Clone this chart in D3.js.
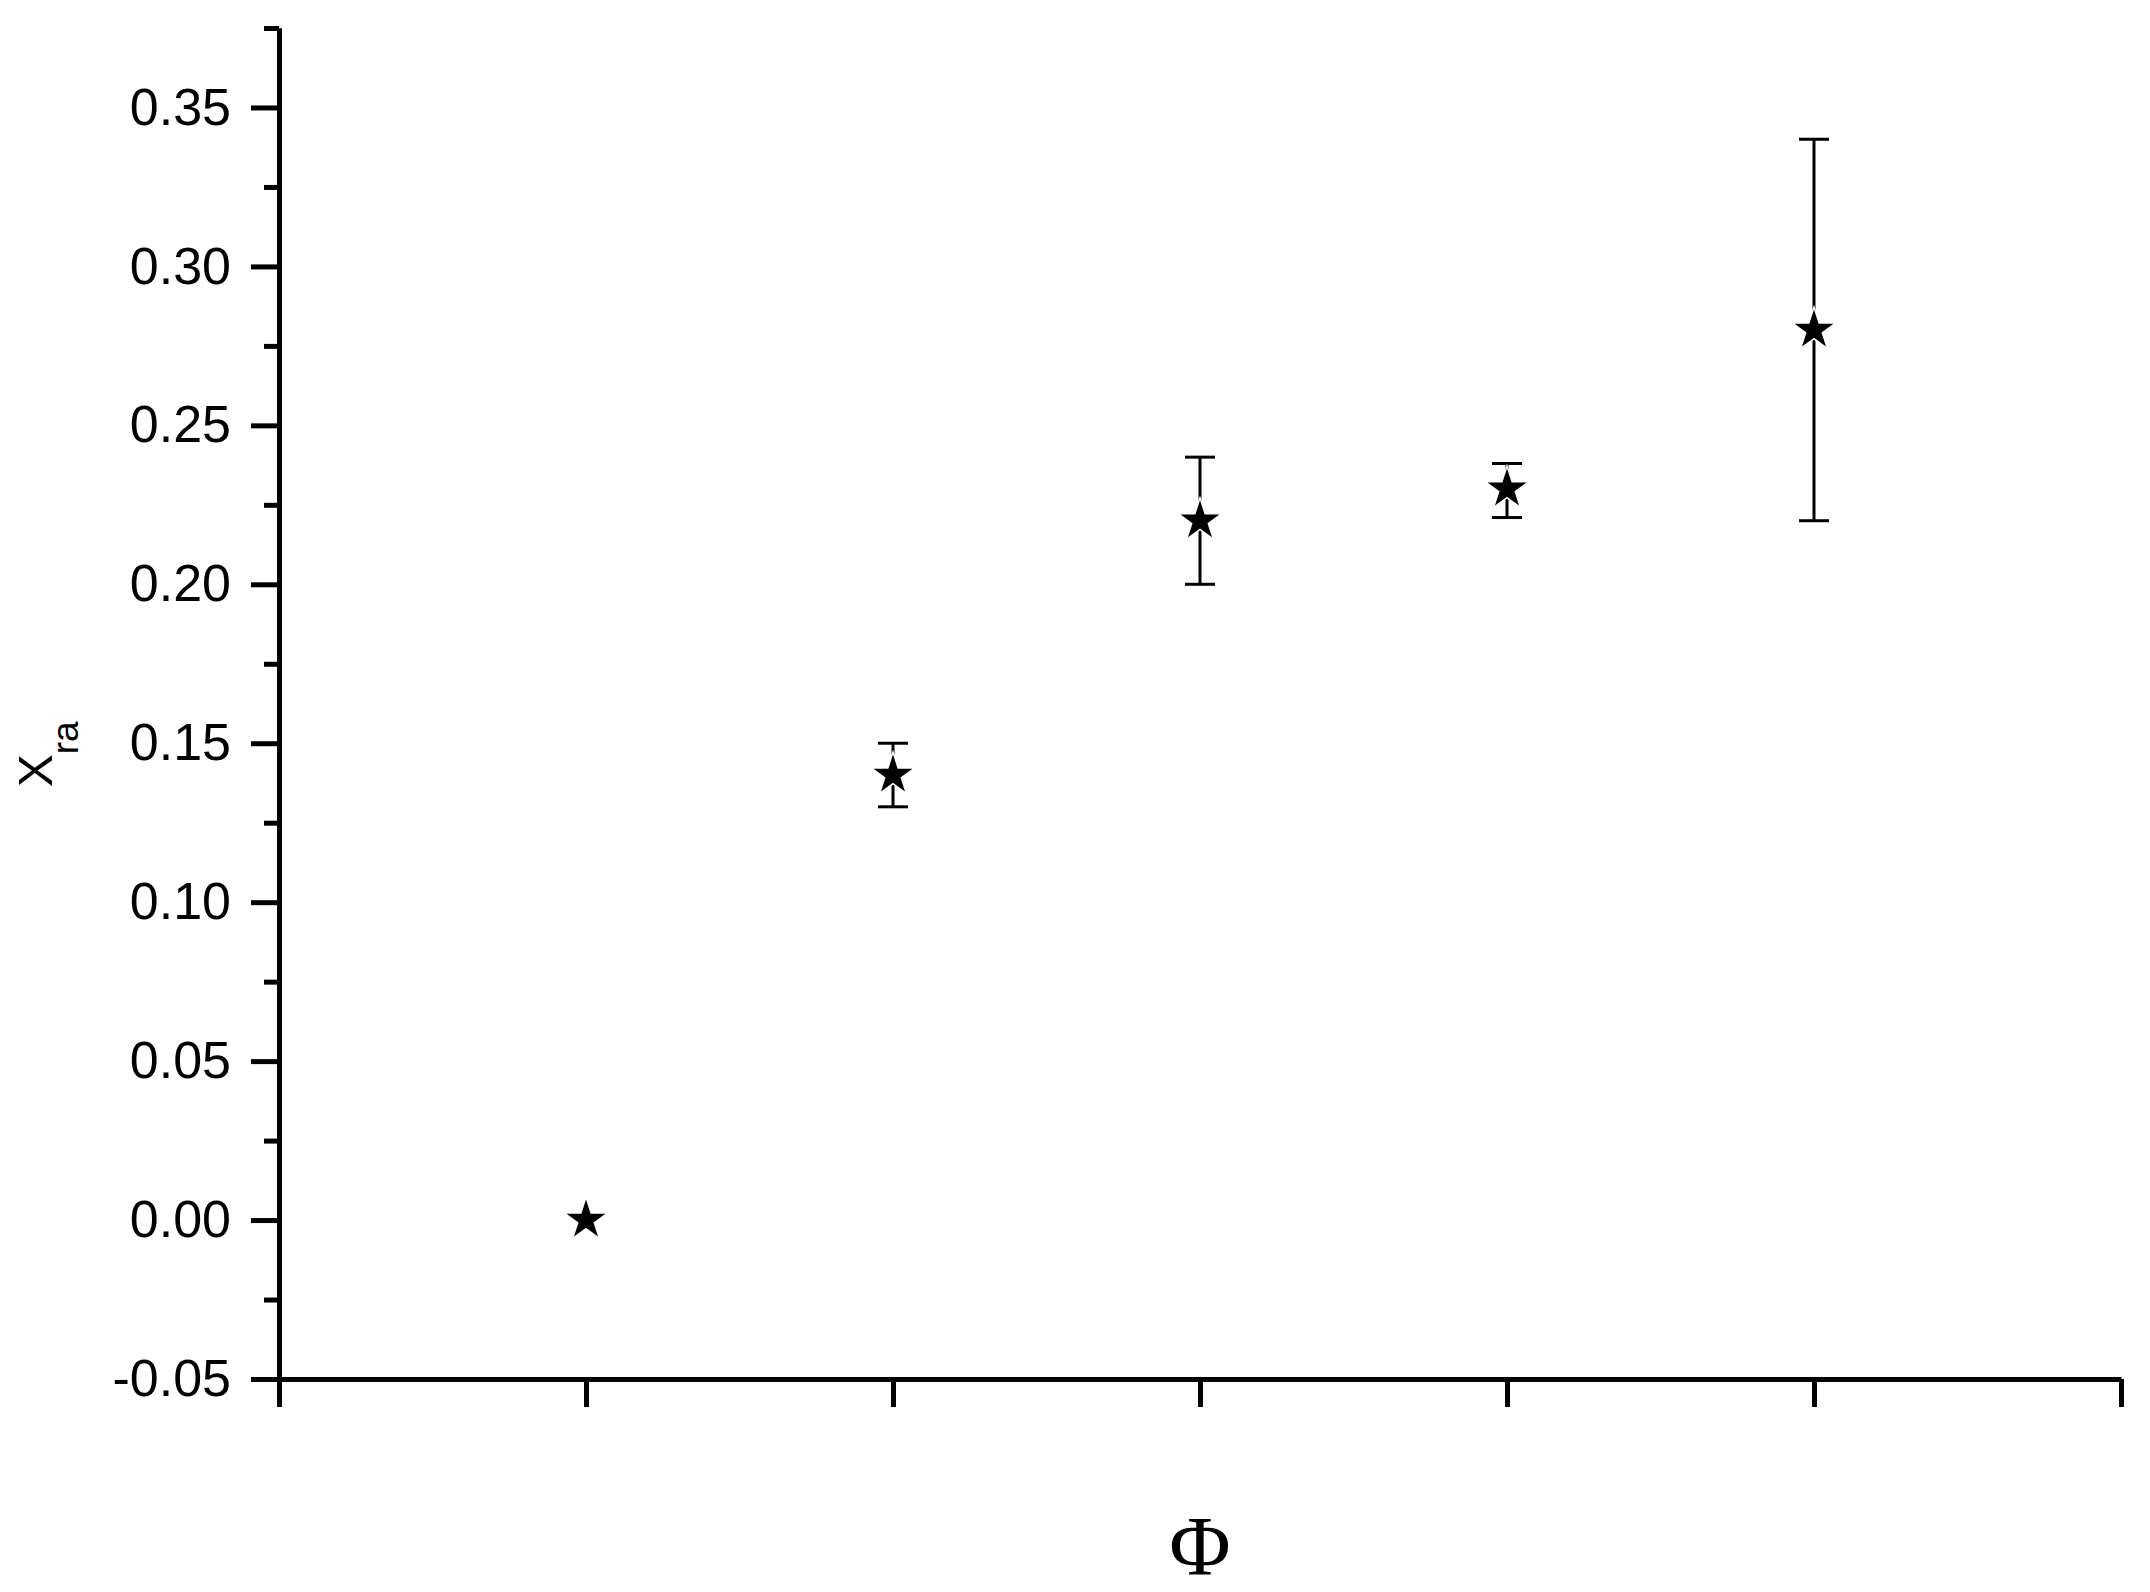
<!DOCTYPE html>
<html>
<head>
<meta charset="utf-8">
<script src="https://cdn.jsdelivr.net/npm/d3@7"></script>
<style>
  body { margin: 0; background: #fff; }
  svg { display: block; }
</style>
</head>
<body>
<div class="container"></div>
<script>
// data
var phi = [1, 2, 3, 4, 5];
var xra = [0, 0.14, 0.22, 0.23, 0.28];
var errLow = [0, 0.13, 0.20, 0.221, 0.22];
var errHigh = [0, 0.15, 0.24, 0.238, 0.34];

var yMajor = [-0.05, 0, 0.05, 0.10, 0.15, 0.20, 0.25, 0.30, 0.35];
var yMinor = [-0.025, 0.025, 0.075, 0.125, 0.175, 0.225, 0.275, 0.325, 0.375];
var xMajor = [0, 1, 2, 3, 4, 5, 6];

var W = 2150, H = 1592;

function makeStage(w, h) {
	var stage = d3.select(".container")
		.append("svg")
		.attr("width", w)
		.attr("height", h);
	stage.append("rect").attr("width", w).attr("height", h).style("fill", "#fff");
	return stage;
}

var svg = makeStage(W, H);

var x = d3.scaleLinear().domain([0, 6]).range([279, 2121]);
var y = d3.scaleLinear().domain([-0.05, 0.375]).range([1379, 28]);

var font = "Arial, 'Liberation Sans', sans-serif";
var fmt = d3.format(".2f");

// y axis, minor ticks first
var yMin = svg.append("g")
	.attr("transform", "translate(" + x(0) + ",0)")
	.call(d3.axisLeft(y).tickValues(yMinor).tickSize(15).tickSizeOuter(0).tickFormat(""));

var yMaj = svg.append("g")
	.attr("transform", "translate(" + x(0) + ",0)")
	.call(d3.axisLeft(y).tickValues(yMajor).tickSize(28).tickSizeOuter(0).tickPadding(20)
		.tickFormat(function(d) { return fmt(d).replace("\u2212", "-"); }));

yMaj.selectAll("text")
	.style("font-family", font)
	.style("font-size", "52px")
	.style("fill", "#000");

// x axis, no labels
var xAx = svg.append("g")
	.attr("transform", "translate(0," + y(-0.05) + ")")
	.call(d3.axisBottom(x).tickValues(xMajor).tickSize(28).tickSizeOuter(0).tickFormat(""));

[yMin, yMaj, xAx].forEach(function(g) {
	g.selectAll("path.domain").style("stroke", "#000").style("stroke-width", 5);
	g.selectAll(".tick line").style("stroke", "#000").style("stroke-width", 5);
});

// error bars
var pts = phi.map(function(p, i) {
	return {x: p, v: xra[i], lo: errLow[i], hi: errHigh[i]};
});
var withErr = pts.filter(function(d) { return d.hi > d.lo; });

var eb = svg.append("g");
eb.selectAll("line.bar").data(withErr).enter().append("line")
	.attr("x1", function(d) { return x(d.x); })
	.attr("x2", function(d) { return x(d.x); })
	.attr("y1", function(d) { return y(d.lo); })
	.attr("y2", function(d) { return y(d.hi); })
	.style("stroke", "#000").style("stroke-width", 3);

var capW = 15;
["lo", "hi"].forEach(function(k) {
	eb.selectAll("line.cap" + k).data(withErr).enter().append("line")
		.attr("x1", function(d) { return x(d.x) - capW; })
		.attr("x2", function(d) { return x(d.x) + capW; })
		.attr("y1", function(d) { return y(d[k]); })
		.attr("y2", function(d) { return y(d[k]); })
		.style("stroke", "#000").style("stroke-width", 3);
});

// stars
var star = d3.symbol().type(d3.symbolStar).size(470);
var mk = svg.append("g");
mk.selectAll("path.halo").data(pts).enter().append("path")
	.attr("d", star)
	.attr("transform", function(d) { return "translate(" + x(d.x) + "," + y(d.v) + ")"; })
	.style("fill", "#fff").style("stroke", "#fff").style("stroke-width", 3);
mk.selectAll("path.star").data(pts).enter().append("path")
	.attr("d", star)
	.attr("transform", function(d) { return "translate(" + x(d.x) + "," + y(d.v) + ")"; })
	.style("fill", "#000");

// axis titles
var yl = svg.append("text")
	.attr("transform", "translate(52,787) rotate(-90)")
	.style("font-family", font)
	.style("fill", "#000");
yl.append("tspan").style("font-size", "49px").text("X");
yl.append("tspan").style("font-size", "37px").attr("dy", 26).text("ra");

svg.append("text")
	.attr("x", (x(0) + x(6)) / 2)
	.attr("y", 1575)
	.attr("text-anchor", "middle")
	.style("font-family", "'Liberation Serif', 'Times New Roman', serif")
	.style("font-size", "84px")
	.style("fill", "#000")
	.text("Φ");
</script>
</body>
</html>
